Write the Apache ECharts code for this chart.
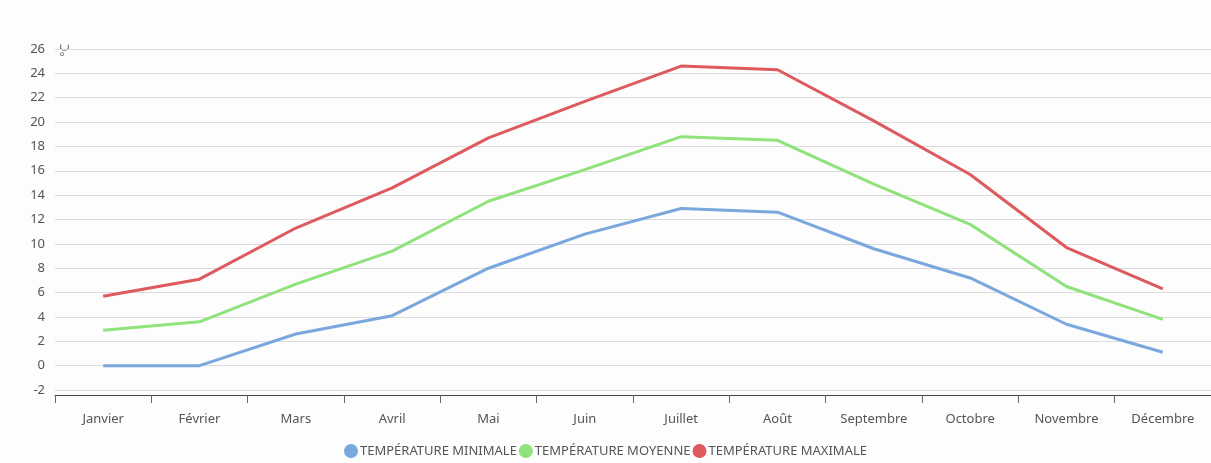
<!DOCTYPE html>
<html>
<head>
<meta charset="utf-8">
<script src="https://cdn.jsdelivr.net/npm/echarts@6/dist/echarts.min.js"></script>
<style>
  html, body { margin: 0; padding: 0; background: #fdfdfd; }
  #main { width: 1211px; height: 463px; }
</style>
</head>
<body>
<div id="main"></div>
<script>
// données
var mois = ['Janvier', 'Février', 'Mars', 'Avril', 'Mai', 'Juin', 'Juillet', 'Août', 'Septembre', 'Octobre', 'Novembre', 'Décembre'];
var tempMin = [0, 0, 2.6, 4.1, 8.0, 10.8, 12.9, 12.6, 9.6, 7.2, 3.4, 1.1];
var tempMoy = [2.9, 3.6, 6.7, 9.4, 13.5, 16.1, 18.8, 18.5, 14.9, 11.6, 6.5, 3.8];
var tempMax = [5.7, 7.1, 11.3, 14.6, 18.7, 21.7, 24.6, 24.3, 20.1, 15.7, 9.7, 6.3];

var myChart = echarts.init(document.getElementById('main'));

var option = {
    backgroundColor: '#fdfdfd',
    color: ['#7aa7dd', '#8fe27c', '#dd5a5e'],
    grid: {
        left: 55,
        top: 49,
        width: 1164,
        bottom: 73
    },
    legend: {
        bottom: 0,
        left: 'center',
        icon: 'circle',
        itemWidth: 14,
        itemHeight: 14,
        itemGap: 2,
        textStyle: { color: '#555', fontSize: 13, fontFamily: 'Noto Sans', padding: [0, 0, 0, -3] },
        data: ['TEMPÉRATURE MINIMALE', 'TEMPÉRATURE MOYENNE', 'TEMPÉRATURE MAXIMALE']
    },
    graphic: [{
        type: 'text',
        left: 60,
        top: 44,
        rotation: Math.PI / 2,
        style: { text: '°C', fill: '#666', font: '12px "Noto Sans"' }
    }],
    xAxis: {
        type: 'category',
        data: mois,
        offset: 5,
        axisLine: { onZero: false, lineStyle: { color: '#444', width: 1 } },
        axisTick: { show: true, length: 8, lineStyle: { color: '#666' } },
        axisLabel: { color: '#555', fontSize: 13, fontFamily: 'Noto Sans', margin: 18 }
    },
    yAxis: {
        type: 'value',
        min: -2,
        max: 26,
        interval: 2,
        axisLine: { show: false },
        axisTick: { show: false },
        axisLabel: { color: '#555', fontSize: 13, fontFamily: 'Noto Sans', margin: 10 },
        splitLine: { lineStyle: { color: '#dcdcdc', width: 1 } }
    },
    series: [
        { name: 'TEMPÉRATURE MINIMALE', type: 'line', data: tempMin, symbol: 'none', lineStyle: { width: 3 } },
        { name: 'TEMPÉRATURE MOYENNE', type: 'line', data: tempMoy, symbol: 'none', lineStyle: { width: 3 } },
        { name: 'TEMPÉRATURE MAXIMALE', type: 'line', data: tempMax, symbol: 'none', lineStyle: { width: 3 } }
    ]
};

myChart.setOption(option);
</script>
</body>
</html>
